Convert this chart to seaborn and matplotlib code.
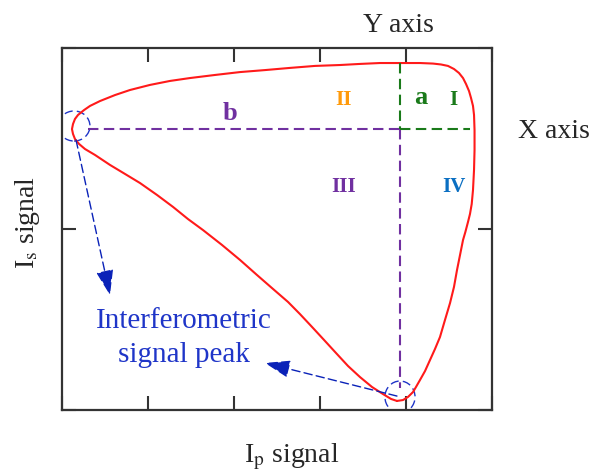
import matplotlib
matplotlib.use("Agg")
import matplotlib.pyplot as plt
from matplotlib.patches import Ellipse
import pandas as pd
import seaborn as sns

# Closed Ip/Is trajectory, starting at the lower peak, running up the lower-left
# branch to the left peak, along the top and back down the right-hand side
curve_x = [3.895, 3.826, 3.733, 3.605, 3.465, 3.326, 3.186, 3.047, 2.907, 2.767,
           2.628, 2.453, 2.267, 2.070, 1.860, 1.640, 1.465, 1.291, 1.105, 0.907,
           0.733, 0.558, 0.384, 0.267, 0.198, 0.151, 0.128, 0.116,
           0.128, 0.151, 0.186, 0.256, 0.326, 0.442, 0.616, 0.791, 1.023, 1.256,
           1.488, 1.779, 2.070, 2.360, 2.651, 2.942, 3.233, 3.465, 3.698, 3.930,
           4.163, 4.314, 4.407, 4.488, 4.558, 4.616, 4.663, 4.698, 4.733, 4.756,
           4.779, 4.791, 4.797, 4.797, 4.791, 4.779, 4.764, 4.744, 4.721, 4.690,
           4.663, 4.628, 4.593, 4.558, 4.512, 4.453, 4.395, 4.337, 4.279, 4.221,
           4.163, 4.116, 4.081, 4.023, 3.965, 3.895]
curve_y = [0.050, 0.061, 0.088, 0.127, 0.182, 0.243, 0.315, 0.387, 0.459, 0.530,
           0.597, 0.669, 0.746, 0.829, 0.912, 0.994, 1.055, 1.122, 1.188, 1.254,
           1.304, 1.354, 1.409, 1.442, 1.470, 1.497, 1.525, 1.552,
           1.580, 1.608, 1.630, 1.657, 1.680, 1.707, 1.740, 1.768, 1.796, 1.818,
           1.834, 1.851, 1.867, 1.878, 1.890, 1.901, 1.906, 1.912, 1.917, 1.917,
           1.917, 1.914, 1.909, 1.901, 1.884, 1.862, 1.834, 1.801, 1.762, 1.724,
           1.680, 1.630, 1.547, 1.436, 1.326, 1.215, 1.138, 1.083, 1.039, 0.983,
           0.939, 0.856, 0.773, 0.680, 0.591, 0.497, 0.403, 0.337, 0.276, 0.215,
           0.166, 0.127, 0.099, 0.072, 0.055, 0.050]

# Reference lines through the two interferometric peaks
peak_x = 3.93          # Ip position of the lower peak (vertical line)
peak_y = 1.55          # Is position of the left peak (horizontal line)
top_y = 1.917
bottom_y = 0.12
left_x = 0.30
right_x = 4.74

x_ticks = [0, 1, 2, 3, 4, 5]
y_ticks = [0, 1, 2]

quadrant_labels = ["I", "II", "III", "IV"]
quadrant_pos = [(4.55, 1.715), (3.27, 1.715), (3.28, 1.23), (4.56, 1.23)]
quadrant_colors = ["#1a7a1a", "#ff9a0a", "#7030a0", "#0b6fc2"]

sns.set_theme(style="white")
plt.rcParams["font.family"] = ["Liberation Serif", "DejaVu Serif"]
plt.rcParams["mathtext.fontset"] = "stix"

fig = plt.figure(figsize=(5.93, 4.73), dpi=100)
ax = fig.add_axes([62 / 593, 1 - 410 / 473, 430 / 593, 362 / 473])

df = pd.DataFrame({"Ip": curve_x, "Is": curve_y})
sns.lineplot(data=df, x="Ip", y="Is", sort=False, estimator=None,
             color="#ff1a1a", linewidth=1.5, ax=ax)

purple = "#7030a0"
green = "#1a7a1a"
dash = (0, (5, 2.6))
ax.plot([left_x, peak_x], [peak_y, peak_y], color=purple, lw=1.5, linestyle=dash)
ax.plot([peak_x, peak_x], [peak_y, bottom_y], color=purple, lw=1.5, linestyle=dash)
ax.plot([peak_x, peak_x], [top_y, peak_y], color=green, lw=1.5, linestyle=dash)
ax.plot([peak_x, right_x], [peak_y, peak_y], color=green, lw=1.5, linestyle=dash)

# Quadrant labels and segment names
for lab, (qx, qy), col in zip(quadrant_labels, quadrant_pos, quadrant_colors):
    ax.text(qx, qy, lab, color=col, fontsize=15, fontweight="bold",
            ha="center", va="center")
ax.text(4.17, 1.725, "a", color=green, fontsize=19, fontweight="bold",
        ha="center", va="center")
ax.text(1.95, 1.64, "b", color=purple, fontsize=19, fontweight="bold",
        ha="center", va="center")

# Peak markers and annotation
blue = "#1f35c8"
for (cx, cy, w, h) in [(0.14, 1.569, 0.37, 0.166), (3.93, 0.072, 0.35, 0.176)]:
    ax.add_patch(Ellipse((cx, cy), w, h, fill=False, edgecolor=blue, lw=1.0,
                         linestyle=(0, (6, 3))))
arrow_kw = dict(arrowstyle="-|>,head_length=1.3,head_width=0.45", color="#0a22b8",
                lw=1.0, linestyle=(0, (6, 3)), shrinkA=0, shrinkB=0)
ax.annotate("", xy=(0.558, 0.635), xytext=(0.163, 1.492), arrowprops=arrow_kw)
ax.annotate("", xy=(2.36, 0.26), xytext=(3.895, 0.077), arrowprops=arrow_kw)
ax.text(1.419, 0.453, "Interferometric", color=blue, fontsize=21,
        ha="center", va="baseline")
ax.text(1.419, 0.265, "signal peak", color=blue, fontsize=21,
        ha="center", va="baseline")

ax.set_xlim(0, 5)
ax.set_ylim(0, 2)
ax.set_xticks(x_ticks)
ax.set_yticks(y_ticks)
ax.tick_params(direction="in", length=10, width=1.5, color="#333333",
               top=True, right=True, bottom=True, left=True,
               labelbottom=False, labelleft=False)
ax.set_xlabel("")
ax.set_ylabel("")
for s in ax.spines.values():
    s.set_color("#333333")
    s.set_linewidth(1.6)

# Axis names around the frame
fig.text(398 / 593, 1 - 32 / 473, "Y axis", fontsize=20, ha="center", va="baseline")
fig.text(554 / 593, 1 - 138 / 473, "X axis", fontsize=20, ha="center", va="baseline")
fig.text(292 / 593, 1 - 462 / 473, r"I$_\mathrm{p}$ signal", fontsize=20,
         ha="center", va="baseline")
fig.text(27 / 593, 1 - 222 / 473, r"I$_\mathrm{s}$ signal", fontsize=20,
         rotation=90, ha="center", va="center")

fig.savefig("out.png", dpi=100)
